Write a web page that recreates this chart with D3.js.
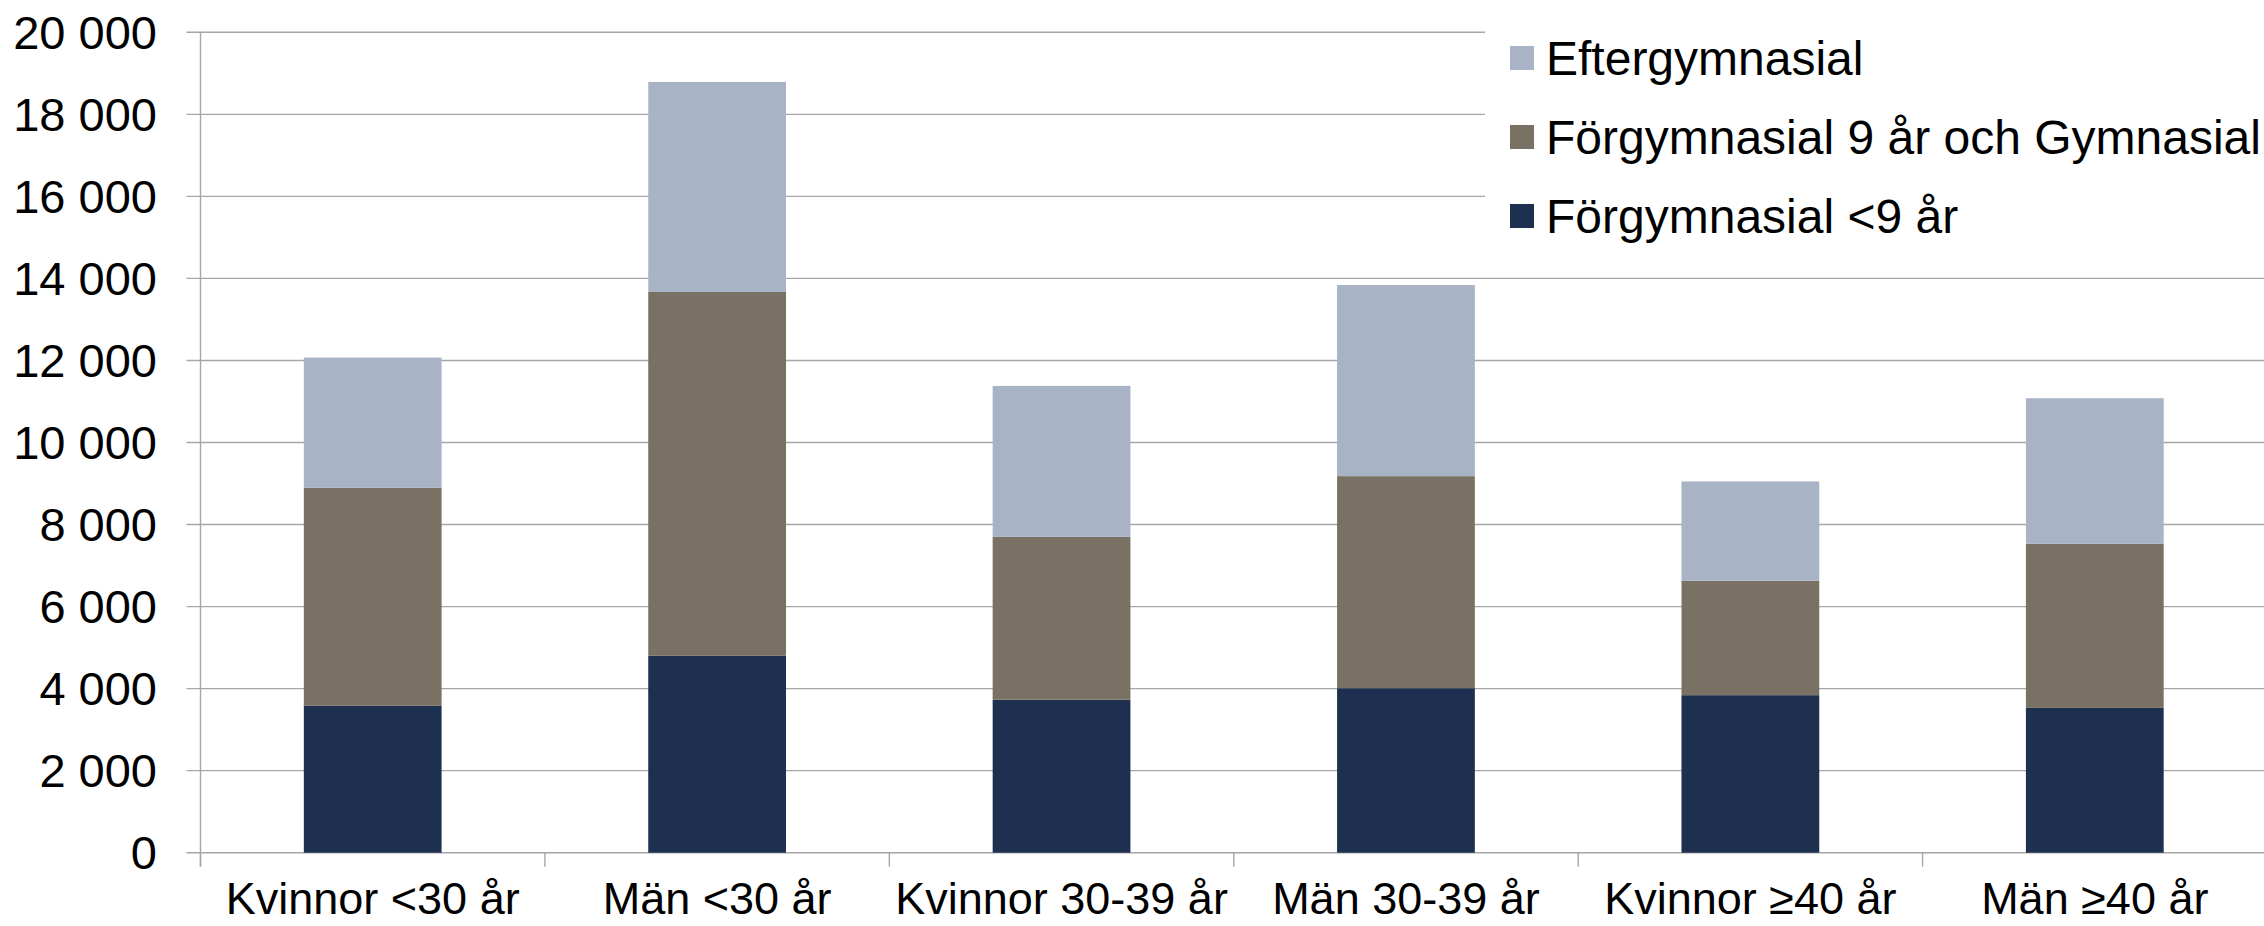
<!DOCTYPE html>
<html>
<head>
<meta charset="utf-8">
<script src="https://cdn.jsdelivr.net/npm/d3@7"></script>
<style>
  html, body { margin: 0; padding: 0; background: #fff; }
  svg { display: block; font-family: "Liberation Sans", Arial, sans-serif; }
</style>
</head>
<body>
<div id="chart"></div>
<script>
// kategorier och serier
const categories = ['Kvinnor <30 år', 'Män <30 år', 'Kvinnor 30-39 år', 'Män 30-39 år', 'Kvinnor ≥40 år', 'Män ≥40 år'];
const seriesNames = ['Förgymnasial <9 år', 'Förgymnasial 9 år och Gymnasial', 'Eftergymnasial'];
const forgymnasialUnder9 = [3580, 4800, 3730, 4010, 3840, 3530];
const forgymnasial9Gymnasial = [5320, 8870, 3970, 5170, 2790, 4000];
const eftergymnasial = [3170, 5120, 3680, 4660, 2420, 3550];
const yTicks = [0, 2000, 4000, 6000, 8000, 10000, 12000, 14000, 16000, 18000, 20000];
const colors = ['#1D3050', '#787164', '#A8B3C6'];

const width = 2264, height = 926;
const margin = { left: 200.5, right: -3, top: 32.3, bottom: 73.3 };

const rows = categories.map((c, i) => ({
  cat: c,
  [seriesNames[0]]: forgymnasialUnder9[i],
  [seriesNames[1]]: forgymnasial9Gymnasial[i],
  [seriesNames[2]]: eftergymnasial[i]
}));
const stacked = d3.stack().keys(seriesNames)(rows);

const svg = d3.select('#chart').append('svg')
  .attr('width', width)
  .attr('height', height);

const x = d3.scaleBand()
  .domain(categories)
  .range([margin.left, width - margin.right])
  .paddingInner(0.6)
  .paddingOuter(0.3);

const y = d3.scaleLinear()
  .domain([0, 20000])
  .range([height - margin.bottom, margin.top]);

const fmt = d3.formatLocale({ decimal: ',', thousands: ' ', grouping: [3], currency: ['', ''] }).format(',d');

// rutnät
svg.append('g')
  .selectAll('line')
  .data(yTicks)
  .join('line')
  .attr('x1', margin.left - 14)
  .attr('x2', width)
  .attr('y1', d => y(d))
  .attr('y2', d => y(d))
  .attr('stroke', '#a6a6a6')
  .attr('stroke-width', 1.4);

// y-axelns etiketter
svg.append('g')
  .selectAll('text')
  .data(yTicks)
  .join('text')
  .attr('x', 157)
  .attr('y', d => y(d))
  .attr('dy', '0.35em')
  .attr('text-anchor', 'end')
  .attr('font-size', '47px')
  .attr('fill', '#000')
  .text(d => fmt(d));

// y-axel
svg.append('line')
  .attr('x1', margin.left).attr('x2', margin.left)
  .attr('y1', margin.top).attr('y2', y(0) + 14)
  .attr('stroke', '#a6a6a6')
  .attr('stroke-width', 1.4);

// x-axelns streck mellan kategorierna
const step = x.step();
const boundaries = d3.range(categories.length + 1).map(i => margin.left + i * step);
svg.append('g')
  .selectAll('line')
  .data(boundaries)
  .join('line')
  .attr('x1', d => d).attr('x2', d => d)
  .attr('y1', y(0)).attr('y2', y(0) + 14)
  .attr('stroke', '#a6a6a6')
  .attr('stroke-width', 1.4);

// staplar
svg.append('g')
  .selectAll('g')
  .data(stacked)
  .join('g')
  .attr('fill', (d, i) => colors[i])
  .selectAll('rect')
  .data(d => d)
  .join('rect')
  .attr('x', d => x(d.data.cat))
  .attr('width', x.bandwidth())
  .attr('y', d => y(d[1]))
  .attr('height', d => y(d[0]) - y(d[1]));

// kategorietiketter
svg.append('g')
  .selectAll('text')
  .data(categories)
  .join('text')
  .attr('x', d => x(d) + x.bandwidth() / 2)
  .attr('y', 914)
  .attr('text-anchor', 'middle')
  .attr('font-size', '45px')
  .attr('fill', '#000')
  .text(d => d);

// legend med vit bakgrund
const legend = svg.append('g');
legend.append('rect')
  .attr('x', 1485).attr('y', 0)
  .attr('width', width - 1485).attr('height', 250)
  .attr('fill', '#fff');

const legendOrder = [2, 1, 0];
const item = legend.selectAll('g.item')
  .data(legendOrder)
  .join('g')
  .attr('class', 'item')
  .attr('transform', (d, i) => `translate(1510, ${58 + i * 79})`);

item.append('rect')
  .attr('x', 0).attr('y', -12)
  .attr('width', 24).attr('height', 24)
  .attr('fill', d => colors[d]);

item.append('text')
  .attr('x', 36)
  .attr('y', 0)
  .attr('dy', '0.35em')
  .attr('font-size', '48px')
  .attr('fill', '#000')
  .text(d => seriesNames[d]);
</script>
</body>
</html>
